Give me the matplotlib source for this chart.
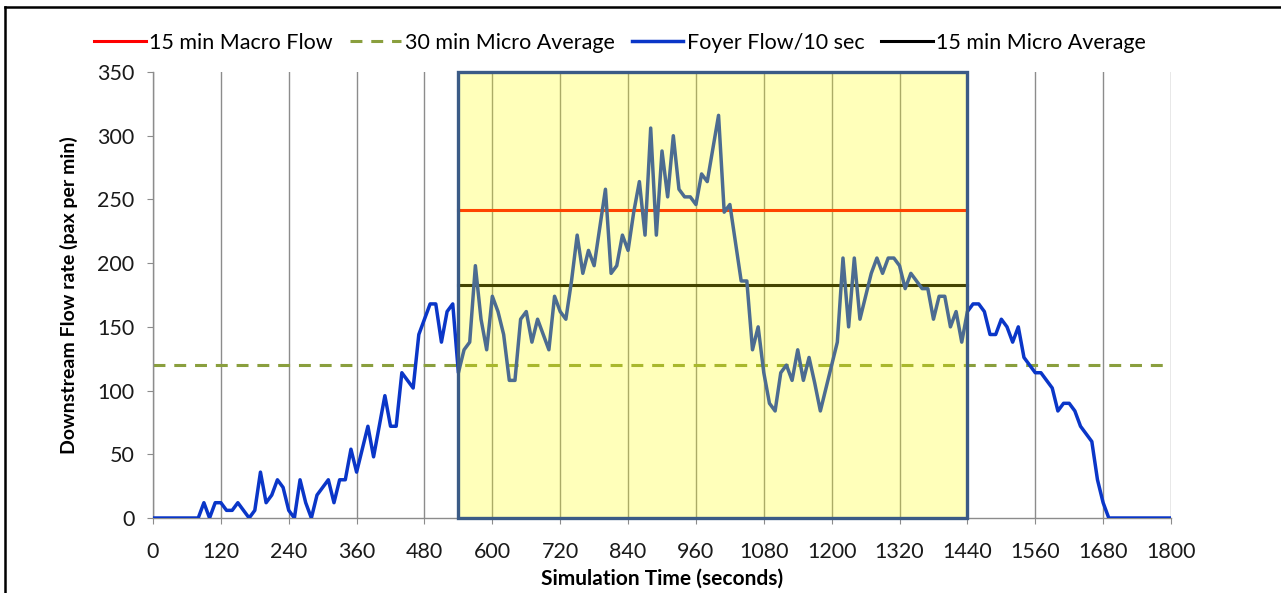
import numpy as np
import matplotlib
matplotlib.use("Agg")
import matplotlib.pyplot as plt
from matplotlib.lines import Line2D
from matplotlib.patches import Rectangle

plt.rcParams['font.family'] = ['Lato', 'DejaVu Sans']

# foyer flow, one value per 10 s from 0 to 1800 s (pax per min)
foyer_flow = [
    0, 0, 0, 0, 0, 0, 0, 0, 0,                      # 0-80
    12, 0, 12, 12, 6, 6, 12, 6, 0, 6,               # 90-180
    36, 12, 18, 30, 24, 6, 0, 30, 12, 0,            # 190-280
    18, 24, 30, 12, 30, 30, 54, 36, 54, 72,         # 290-380
    48, 72, 96, 72, 72, 114, 108, 102, 144, 156,    # 390-480
    168, 168, 138, 162, 168, 114, 132, 138, 198, 156,  # 490-580
    132, 174, 162, 144, 108, 108, 156, 162, 138, 156,  # 590-680
    144, 132, 174, 162, 156, 186, 222, 192, 210, 198,  # 690-780
    228, 258, 192, 198, 222, 210, 240, 264, 222, 306,  # 790-880
    222, 288, 252, 300, 258, 252, 252, 246, 270, 264,  # 890-980
    290, 316, 240, 246, 216, 186, 186, 132, 150, 114,  # 990-1080
    90, 84, 114, 120, 108, 132, 108, 126, 106, 84,     # 1090-1180
    102, 120, 138, 204, 150, 204, 156, 174, 192, 204,  # 1190-1280
    192, 204, 204, 198, 180, 192, 186, 180, 180, 156,  # 1290-1380
    174, 174, 150, 162, 138, 162, 168, 168, 162, 144,  # 1390-1480
    144, 156, 150, 138, 150, 126, 120, 114, 114, 108,  # 1490-1580
    102, 84, 90, 90, 84, 72, 66, 60, 30, 12,           # 1590-1680
    0, 0, 0, 0, 0, 0, 0, 0, 0, 0, 0, 0,                # 1690-1800
]
times = np.arange(0, 1810, 10)

macro_flow_15 = 242      # 15 min Macro Flow
micro_avg_30 = 120       # 30 min Micro Average
micro_avg_15 = 183       # 15 min Micro Average
window = [540, 1440]     # 15 min window
full_range = [0, 1800]

xticks = list(range(0, 1801, 120))
yticks = list(range(0, 351, 50))

W, H = 1281, 593
fig = plt.figure(figsize=(W / 100, H / 100), dpi=100)
ax = fig.add_axes([153 / W, 1 - 518 / H, (1171 - 153) / W, (518 - 72) / H])

grey = '#8c8c8c'
ax.plot(window, [macro_flow_15] * 2, color='#ff0000', lw=2.2, zorder=3,
        label='15 min Macro Flow')
ax.plot(full_range, [micro_avg_30] * 2, color='#8a9f3e', lw=2.2, zorder=2,
        dashes=(3.9, 2.9), label='30 min Micro Average')
ax.plot(times, foyer_flow, color='#0a36c8', lw=2.5, zorder=4,
        label='Foyer Flow/10 sec')
ax.plot(window, [micro_avg_15] * 2, color='#000000', lw=2.2, zorder=3,
        label='15 min Micro Average')

# shaded 15 minute window
ax.axvspan(window[0], window[1], facecolor='#ffff00', alpha=0.27, lw=0, zorder=5)
ax.add_patch(Rectangle((window[0], 0), window[1] - window[0], 350, fill=False,
                       edgecolor='#3b5b86', lw=2.4, zorder=6, clip_on=False))

ax.set_xlim(0, 1800)
ax.set_ylim(0, 350)
ax.set_xticks(xticks)
ax.set_yticks(yticks)
ax.grid(axis='x', color=grey, lw=1.0, zorder=1)
ax.set_axisbelow(True)
for s in ['top', 'right']:
    ax.spines[s].set_visible(False)
for s in ['left', 'bottom']:
    ax.spines[s].set_color(grey)
    ax.spines[s].set_linewidth(1.0)
ax.tick_params(axis='both', direction='out', length=4.3, color=grey,
               labelsize=15.5, labelcolor='#1a1a1a')
ax.tick_params(axis='x', pad=13)
ax.tick_params(axis='y', pad=9)

ax.set_xlabel('Simulation Time (seconds)', fontsize=15, fontweight='bold', labelpad=5)
ax.set_ylabel('Downstream Flow rate (pax per min)', fontsize=14, fontweight='bold',
              labelpad=14)

fig.legend(loc='center', bbox_to_anchor=(620 / W, 1 - 43 / H), ncol=4, frameon=False,
           fontsize=15.5, handlelength=2.4, handletextpad=0.15, columnspacing=0.8)

# outer frame
fig.add_artist(Line2D([5 / W, 1], [1 - 7 / H] * 2, transform=fig.transFigure,
                      color='black', lw=1.8))
fig.add_artist(Line2D([5 / W] * 2, [0, 1 - 7 / H], transform=fig.transFigure,
                      color='black', lw=1.8))

fig.savefig('out.png', dpi=100)
